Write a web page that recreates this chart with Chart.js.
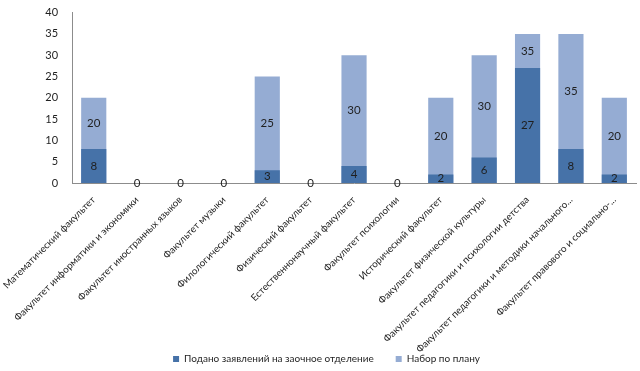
<!DOCTYPE html>
<html>
<head>
<meta charset="utf-8">
<script src="https://cdn.jsdelivr.net/npm/chart.js@4/dist/chart.umd.min.js"></script>
<style>
  body { margin: 0; background: #fff; }
  #wrap { width: 640px; height: 371px; }
</style>
</head>
<body>
<div id="wrap"><canvas id="facultyChart"></canvas></div>
<script>
var faculties = [
  "Математический факультет",
  "Факультет информатики и экономики",
  "Факультет иностранных языков",
  "Факультет музыки",
  "Филологический факультет",
  "Физический факультет",
  "Естественнонаучный факультет",
  "Факультет психологии",
  "Исторический факультет",
  "Факультет физической культуры",
  "Факультет педагогики и психологии детства",
  "Факультет педагогики и методики начального...",
  "Факультет правового и социально-..."
];
var applied = [8, 0, 0, 0, 3, 0, 4, 0, 2, 6, 27, 8, 2];
var plan = [20, 0, 0, 0, 25, 0, 30, 0, 20, 30, 35, 35, 20];
var yTicks = [0, 5, 10, 15, 20, 25, 30, 35, 40];

var darkBlue = "#4672a8";
var lightBlue = "#95acd3";
var fontName = "Lato, 'Open Sans', sans-serif";

// draws values inside bars, like the office chart does
var barLabels = {
  id: "barLabels",
  afterLayout: function (chart) {
    // let the long rotated labels run down under the legend without being clipped
    chart.scales.x.bottom = chart.height;
  },
  afterDatasetsDraw: function (chart) {
    var ctx = chart.ctx;
    var yScale = chart.scales.y;
    var darkMeta = chart.getDatasetMeta(0);
    var lightMeta = chart.getDatasetMeta(1);
    ctx.save();
    ctx.font = "11.5px " + fontName;
    ctx.fillStyle = "#1f1f1f";
    ctx.textAlign = "center";
    ctx.textBaseline = "middle";
    for (var i = 0; i < faculties.length; i++) {
      var x = darkMeta.data[i].x;
      var yDark = yScale.getPixelForValue(applied[i]);
      var yZero = yScale.getPixelForValue(0);
      ctx.fillText(String(applied[i]), x, (yDark + yZero) / 2);
      if (plan[i] > 0) {
        var yPlan = yScale.getPixelForValue(plan[i]);
        ctx.fillText(String(plan[i]), lightMeta.data[i].x, (yPlan + yDark) / 2);
      }
    }
    ctx.restore();
  }
};

new Chart(document.getElementById("facultyChart"), {
  type: "bar",
  data: {
    labels: faculties,
    datasets: [{
      label: "Подано заявлений на заочное отделение",
      data: applied,
      backgroundColor: darkBlue,
      grouped: false,
      barPercentage: 0.58,
      categoryPercentage: 1.0
    }, {
      label: "Набор по плану",
      data: plan,
      backgroundColor: lightBlue,
      grouped: false,
      barPercentage: 0.58,
      categoryPercentage: 1.0
    }]
  },
  options: {
    responsive: true,
    maintainAspectRatio: false,
    animation: false,
    layout: { padding: { top: 0, right: 4, left: 17, bottom: -3 } },
    plugins: {
      legend: {
        position: "bottom",
        labels: {
          boxWidth: 6,
          boxHeight: 6,
          padding: 22,
          color: "#1f1f1f",
          font: { family: fontName, size: 10 }
        }
      },
      tooltip: { enabled: false }
    },
    scales: {
      x: {
        grid: { display: false },
        border: { display: true, color: "#8c8c8c" },
        afterFit: function (scale) {
          scale.height = 149;
        },
        ticks: {
          minRotation: 45,
          maxRotation: 45,
          autoSkip: false,
          color: "#1f1f1f",
          font: { family: fontName, size: 9.8 }
        }
      },
      y: {
        min: 0,
        max: 40,
        afterBuildTicks: function (axis) {
          axis.ticks = yTicks.map(function (v) { return { value: v }; });
        },
        grid: { display: false },
        border: { display: true, color: "#8c8c8c" },
        ticks: {
          color: "#1f1f1f",
          padding: 6,
          font: { family: fontName, size: 11 }
        }
      }
    }
  },
  plugins: [barLabels]
});
</script>
</body>
</html>
